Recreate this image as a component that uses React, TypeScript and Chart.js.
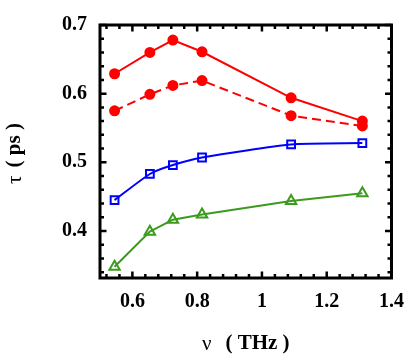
import React, { useEffect, useRef } from "react";
import { Chart, registerables } from "chart.js";

Chart.register(...registerables);

const freq = [0.545, 0.654, 0.725, 0.815, 1.09, 1.31];
const redSolid = [0.629, 0.66, 0.678, 0.661, 0.594, 0.56];
const redDashed = [0.575, 0.599, 0.612, 0.619, 0.568, 0.553];
const blueSeries = [0.445, 0.483, 0.496, 0.507, 0.526, 0.528];
const greenSeries = [0.348, 0.399, 0.4165, 0.424, 0.4436, 0.455];

const xTicks = [0.6, 0.8, 1, 1.2, 1.4];
const yTicks = [0.4, 0.5, 0.6, 0.7];
const xMinorStep = 0.04;
const yMinorStep = 0.02;
const xRange = [0.5, 1.4];
const yRange = [0.3315, 0.7];

const xTitleSym = "ν";
const xTitleUnit = "( THz )";
const yTitleSym = "τ";
const yTitleUnit = "( ps )";

const FONT = "'Liberation Serif', 'Times New Roman', serif";

const pts = (ys: number[]) => freq.map((x, i) => ({ x, y: ys[i] }));

function drawTitle(ctx: any, sym: string, unit: string, gap: number) {
  ctx.font = `21px ${FONT}`;
  const w1 = ctx.measureText(sym).width;
  ctx.font = `bold 21px ${FONT}`;
  const w2 = ctx.measureText(unit).width;
  const total = w1 + gap + w2;
  ctx.textAlign = "left";
  ctx.textBaseline = "middle";
  ctx.font = `21px ${FONT}`;
  ctx.fillText(sym, -total / 2, 0);
  ctx.font = `bold 21px ${FONT}`;
  ctx.fillText(unit, -total / 2 + w1 + gap, 0);
}

const framePlugin = {
  id: "frame",
  afterDraw(chart: any) {
    const { ctx, chartArea } = chart;
    const xs = chart.scales.x;
    const ys = chart.scales.y;
    const { left, right, top, bottom } = chartArea;
    ctx.save();
    ctx.strokeStyle = "#000";
    ctx.lineWidth = 3;
    ctx.strokeRect(left, top, right - left, bottom - top);
    const isMajor = (v: number, arr: number[]) => arr.some((t) => Math.abs(t - v) < 1e-6);
    ctx.lineWidth = 2.5;
    for (let v = 0.52; v <= xRange[1] + 1e-9; v += xMinorStep) {
      const vv = Math.round(v * 100) / 100;
      const px = xs.getPixelForValue(vv);
      const len = isMajor(vv, xTicks) ? 6.5 : 4;
      ctx.beginPath();
      ctx.moveTo(px, bottom);
      ctx.lineTo(px, bottom - len);
      ctx.moveTo(px, top);
      ctx.lineTo(px, top + len);
      ctx.stroke();
    }
    for (let v = 0.34; v <= yRange[1] + 1e-9; v += yMinorStep) {
      const vv = Math.round(v * 100) / 100;
      const py = ys.getPixelForValue(vv);
      const len = isMajor(vv, yTicks) ? 6.5 : 4;
      ctx.beginPath();
      ctx.moveTo(left, py);
      ctx.lineTo(left + len, py);
      ctx.moveTo(right, py);
      ctx.lineTo(right - len, py);
      ctx.stroke();
    }
    ctx.fillStyle = "#000";
    ctx.save();
    ctx.translate((left + right) / 2, 344);
    drawTitle(ctx, xTitleSym, xTitleUnit, 14);
    ctx.restore();
    ctx.save();
    ctx.translate(15, (top + bottom) / 2 + 2);
    ctx.rotate(-Math.PI / 2);
    drawTitle(ctx, yTitleSym, yTitleUnit, 8);
    ctx.restore();
    ctx.restore();
  },
};

export default function App() {
  const ref = useRef<HTMLCanvasElement>(null);
  useEffect(() => {
    if (!ref.current) return;
    const chart = new Chart(ref.current, {
      type: "line",
      data: {
        datasets: [
          {
            data: pts(redSolid),
            borderColor: "#ff0000",
            backgroundColor: "#ff0000",
            borderWidth: 2,
            pointRadius: 4.5,
            pointStyle: "circle",
            tension: 0,
          },
          {
            data: pts(redDashed),
            borderColor: "#ff0000",
            backgroundColor: "#ff0000",
            borderWidth: 2,
            borderDash: [9, 5],
            pointRadius: 4.5,
            pointStyle: "circle",
            tension: 0,
          },
          {
            data: pts(blueSeries),
            borderColor: "#0000ff",
            backgroundColor: "#ffffff",
            pointBackgroundColor: "rgba(0,0,0,0)",
            borderWidth: 2,
            pointBorderWidth: 2,
            pointRadius: 5.5,
            pointStyle: "rect",
            tension: 0.2,
          },
          {
            data: pts(greenSeries),
            borderColor: "#3c9a1e",
            backgroundColor: "#ffffff",
            pointBackgroundColor: "rgba(0,0,0,0)",
            borderWidth: 2,
            pointBorderWidth: 2,
            pointRadius: 6,
            pointStyle: "triangle",
            tension: 0,
          },
        ],
      },
      options: {
        responsive: false,
        animation: false,
        layout: { padding: { left: 0, right: 21, top: 15, bottom: 0 } },
        plugins: { legend: { display: false }, tooltip: { enabled: false } },
        scales: {
          x: {
            type: "linear",
            min: xRange[0],
            max: xRange[1],
            grid: { display: false, drawTicks: false },
            border: { display: false },
            afterBuildTicks: (s: any) => {
              s.ticks = xTicks.map((v) => ({ value: v }));
            },
            afterFit: (s: any) => {
              s.height = 76;
            },
            ticks: {
              color: "#000",
              padding: 12,
              maxRotation: 0,
              autoSkip: false,
              font: { family: FONT, size: 20, weight: "bold" },
              callback: (v: any) => String(v),
            },
          },
          y: {
            type: "linear",
            min: yRange[0],
            max: yRange[1],
            grid: { display: false, drawTicks: false },
            border: { display: false },
            afterBuildTicks: (s: any) => {
              s.ticks = yTicks.map((v) => ({ value: v }));
            },
            afterFit: (s: any) => {
              s.width = 100;
            },
            ticks: {
              color: "#000",
              padding: 13,
              autoSkip: false,
              font: { family: FONT, size: 20, weight: "bold" },
              callback: (v: any) => String(v),
            },
          },
        },
      },
      plugins: [framePlugin],
    });
    return () => chart.destroy();
  }, []);
  return (
    <div style={{ position: "absolute", left: 0, top: 0, width: 416, height: 354, background: "#fff" }}>
      <canvas ref={ref} width={416} height={354} />
    </div>
  );
}
